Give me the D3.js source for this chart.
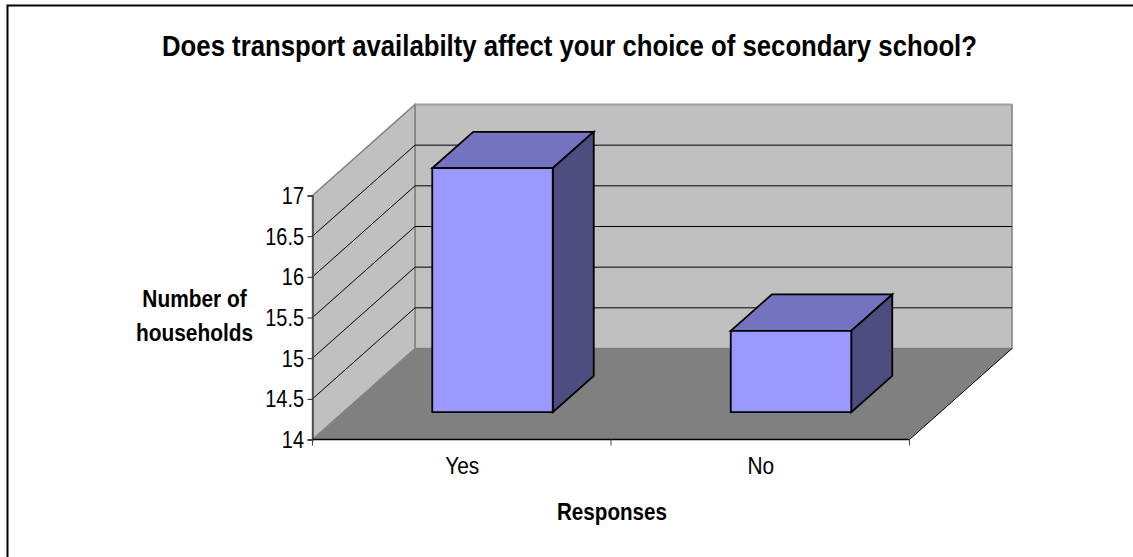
<!DOCTYPE html>
<html>
<head>
<meta charset="utf-8">
<script src="https://cdn.jsdelivr.net/npm/d3@7"></script>
<style>
body { margin: 0; background: #fff; }
text { font-family: "Liberation Sans", Arial, sans-serif; fill: #000; }
</style>
</head>
<body>
<script>
var categories = ["Yes", "No"];
var values = [17, 15];
var yTicks = [14, 14.5, 15, 15.5, 16, 16.5, 17];
var yTickLabels = ["14", "14.5", "15", "15.5", "16", "16.5", "17"];
var titleText = "Does transport availabilty affect your choice of secondary school?";
var yTitleLines = ["Number of", "households"];
var xTitleText = "Responses";

var width = 1133, height = 557;

var svg = d3.select("body").append("svg")
	.attr("width", width)
	.attr("height", height)
	.style("display", "block");

// front plane of the plot
var x = d3.scaleBand().domain(categories).range([312.5, 909.5]).paddingInner(0).paddingOuter(0);
var y = d3.scaleLinear().domain([14, 17]).range([439.5, 195.5]);

// depth offset of the box, d from 0 (front) to 1 (back)
var depthX = 102.5, depthY = -91;
function px(v, d) { return v + d * depthX; }
function py(v, d) { return v + d * depthY; }
function pts(a) { return a.map(function(p){ return p.join(","); }).join(" "); }

// the text in the picture is squeezed sideways, so scale it
function squeeze(sel, tx, ty, sx) {
	sel.attr("x", null).attr("y", null).attr("dy", null)
		.attr("transform", "translate(" + tx + "," + ty + ") scale(" + sx + ",1)");
}

// outer frame, open on the right
svg.append("path")
	.attr("d", "M7.5,557V5.5H1133")
	.attr("fill", "none")
	.attr("stroke", "#000")
	.attr("stroke-width", 2);

var x0 = x.range()[0], x1 = x.range()[1];
var y0 = y(14), y1 = y(17);

// back wall
svg.append("polygon")
	.attr("points", pts([[px(x0,1),py(y1,1)],[px(x1,1),py(y1,1)],[px(x1,1),py(y0,1)],[px(x0,1),py(y0,1)]]))
	.attr("fill", "#c0c0c0").attr("stroke", "#808080").attr("stroke-width", 1.5);
// side wall
svg.append("polygon")
	.attr("points", pts([[x0,y1],[px(x0,1),py(y1,1)],[px(x0,1),py(y0,1)],[x0,y0]]))
	.attr("fill", "#c0c0c0").attr("stroke", "#808080").attr("stroke-width", 1.5);
// floor
svg.append("polygon")
	.attr("points", pts([[x0,y0],[x1,y0],[px(x1,1),py(y0,1)],[px(x0,1),py(y0,1)]]))
	.attr("fill", "#808080");

// gridlines
svg.selectAll(".grid")
	.data(yTicks.filter(function(d){ return d > 14 && d < 17; }).concat([17]))
	.enter().append("path")
		.attr("class", "grid")
		.attr("d", function(d){
			var v = y(d);
			if (d == 17) return "M" + px(x0,1) + "," + py(v,1) + "H" + px(x1,1);
			return "M" + x0 + "," + v + "L" + px(x0,1) + "," + py(v,1) + "H" + px(x1,1);
		})
		.attr("fill", "none")
		.attr("stroke", function(d){ return d == 17 ? "#a0a0a0" : "#000"; })
		.attr("stroke-width", function(d){ return d == 17 ? 1.5 : 1; });

// floor edges
svg.append("line")
	.attr("x1", x1).attr("y1", y0).attr("x2", px(x1,1)).attr("y2", py(y0,1))
	.attr("stroke", "#000").attr("stroke-width", 1);

// bars
var barD0 = 0.3, barD1 = 0.7, barW = 120.5;
var bars = svg.selectAll(".bar")
	.data(categories.map(function(c, i){ return {c: c, v: values[i]}; }))
	.enter().append("g")
		.attr("class", "bar")
		.each(function(d){
			var g = d3.select(this);
			var l = x(d.c) + x.bandwidth() / 2 - barW / 2;
			var r = l + barW;
			var t = y(d.v), b = y(14);
			g.append("polygon")
				.attr("points", pts([[px(l,barD0),py(t,barD0)],[px(r,barD0),py(t,barD0)],[px(r,barD1),py(t,barD1)],[px(l,barD1),py(t,barD1)]]))
				.attr("fill", "#7373bf");
			g.append("polygon")
				.attr("points", pts([[px(r,barD0),py(t,barD0)],[px(r,barD1),py(t,barD1)],[px(r,barD1),py(b,barD1)],[px(r,barD0),py(b,barD0)]]))
				.attr("fill", "#4d4d80");
			g.append("polygon")
				.attr("points", pts([[px(l,barD0),py(t,barD0)],[px(r,barD0),py(t,barD0)],[px(r,barD0),py(b,barD0)],[px(l,barD0),py(b,barD0)]]))
				.attr("fill", "#9999ff");
			g.selectAll("polygon")
				.attr("stroke", "#000").attr("stroke-width", 1.8).attr("stroke-linejoin", "miter");
		});

// axes
var yAxis = d3.axisLeft(y)
	.tickValues(yTicks)
	.tickFormat(function(d, i){ return yTickLabels[i]; })
	.tickSize(5);
var gy = svg.append("g").attr("transform", "translate(" + x0 + ",0)").call(yAxis);
gy.selectAll("text").style("font-size", "24px").attr("text-anchor", "end")
	.call(squeeze, -8.5, 8, 0.83);
gy.select(".domain").attr("stroke", "#404040").attr("stroke-width", 1.5);
gy.selectAll(".tick line").attr("stroke", "#202020");

var boundaries = [x0, x0 + x.bandwidth(), x1];
svg.append("line").attr("x1", x0).attr("x2", x1).attr("y1", y0).attr("y2", y0)
	.attr("stroke", "#000").attr("stroke-width", 1.5);
svg.selectAll(".xtick").data(boundaries).enter().append("line")
	.attr("class", "xtick")
	.attr("x1", function(d){ return d; }).attr("x2", function(d){ return d; })
	.attr("y1", y0).attr("y2", y0 + 6)
	.attr("stroke", "#404040");

svg.selectAll(".xlab").data(categories).enter().append("text")
	.attr("class", "xlab")
	.attr("text-anchor", "middle")
	.style("font-size", "24px")
	.text(function(d){ return d; })
	.each(function(d){
		d3.select(this).call(squeeze, x(d) + x.bandwidth() / 2 + 0.5, 474, 0.87);
	});

// titles
svg.append("text").attr("text-anchor", "middle")
	.style("font-size", "30px").style("font-weight", "bold").text(titleText)
	.call(squeeze, 569.5, 55.5, 0.858);
svg.append("text").attr("text-anchor", "middle")
	.style("font-size", "24px").style("font-weight", "bold").text(xTitleText)
	.call(squeeze, 612, 520, 0.86);
svg.selectAll(".ytitle").data(yTitleLines).enter().append("text")
	.attr("class", "ytitle")
	.attr("text-anchor", "middle")
	.style("font-size", "24px").style("font-weight", "bold")
	.text(function(d){ return d; })
	.each(function(d, i){
		d3.select(this).call(squeeze, 194.5, 307 + i * 34, 0.87);
	});
</script>
</body>
</html>
